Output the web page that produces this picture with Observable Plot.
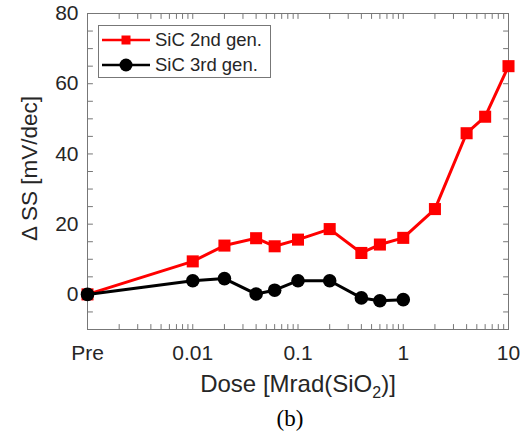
<!DOCTYPE html>
<html>
<head>
<meta charset="utf-8">
<script src="https://cdn.jsdelivr.net/npm/d3@7"></script>
<script src="https://cdn.jsdelivr.net/npm/@observablehq/plot@0.6"></script>
<style>
  html, body { margin: 0; padding: 0; background: #fff; }
  body { font-family: "Liberation Sans", Arial, sans-serif; color: #262626; }
  #wrap { position: relative; width: 530px; height: 442px; }
  #legend { position: absolute; left: 98px; top: 25px; width: 173px; height: 53px;
            box-sizing: border-box; border: 1px solid #777; background: #fff; }
  #legend .row { position: absolute; left: 0; height: 24px; width: 100%; }
  #legend svg { position: absolute; left: 3px; top: 0; }
  #legend span { position: absolute; left: 56px; top: 0; line-height: 24px; font-size: 18.5px; white-space: nowrap; }
  #caption { position: absolute; left: 290px; top: 406px; transform: translateX(-50%);
             font-family: "Liberation Serif", "Times New Roman", serif; font-size: 23px; line-height: 26px; color: #000; }
</style>
</head>
<body>
<div id="wrap">
  <div id="chart"></div>
  <div id="legend"></div>
  <div id="caption">(b)</div>
</div>
<script>
// ---- data ----
const seriesNames = ["SiC 2nd gen.", "SiC 3rd gen."];
const seriesColors = ["#ff0000", "#000000"];
const preDose = 0.001; // "Pre" position on the log axis
const doseGen2 = [preDose, 0.01, 0.02, 0.04, 0.06, 0.1, 0.2, 0.4, 0.6, 1, 2, 4, 6, 10];
const ssGen2   = [0, 9.4, 13.9, 16.0, 13.7, 15.6, 18.6, 11.8, 14.2, 16.1, 24.3, 45.9, 50.6, 65.0];
const doseGen3 = [preDose, 0.01, 0.02, 0.04, 0.06, 0.1, 0.2, 0.4, 0.6, 1];
const ssGen3   = [0, 3.9, 4.5, 0.1, 1.2, 3.9, 3.9, -1.0, -1.8, -1.5];
const xTicks = [preDose, 0.01, 0.1, 1, 10];
const xTickLabels = ["Pre", "0.01", "0.1", "1", "10"];
const yTicks = [0, 20, 40, 60, 80];
const xLabel = "Dose [Mrad(SiO2)]";
const yLabel = "\u0394 SS [mV/dec]";

// ---- derived ----
const gen2 = doseGen2.map((d, i) => ({dose: d, ss: ssGen2[i]}));
const gen3 = doseGen3.map((d, i) => ({dose: d, ss: ssGen3[i]}));
const xMinor = [];
for (let e = -3; e < 1; e++) for (let m = 2; m <= 9; m++) xMinor.push(m * Math.pow(10, e));
const yMinor = d3.range(-10, 81, 5);
const xAll = xTicks.concat(xMinor);

const axisColor = "#262626";
const frameColor = "#777";
const tickShape = { draw(ctx, l) { ctx.moveTo(0, 0); ctx.lineTo(0, -l); } };
const tickLen = 5;
const tickOpts = (anchor, rotate, ch) => ({
  [ch]: d => d, frameAnchor: anchor, rotate, anchor: "start",
  length: tickLen, shape: tickShape, stroke: frameColor, strokeWidth: 1
});

const plot = Plot.plot({
  width: 530,
  height: 400,
  marginLeft: 87,
  marginRight: 22,
  marginTop: 13,
  marginBottom: 71,
  style: { fontFamily: "'Liberation Sans', Arial, sans-serif", color: axisColor, background: "#fff", overflow: "visible" },
  x: { type: "log", domain: [0.001, 10] },
  y: { domain: [-10, 80] },
  marks: [
    Plot.frame({ stroke: frameColor, strokeWidth: 1 }),
    Plot.vector(xAll, tickOpts("bottom", 0, "x")),
    Plot.vector(xAll, tickOpts("top", 180, "x")),
    Plot.vector(yMinor, tickOpts("left", 90, "y")),
    Plot.vector(yMinor, tickOpts("right", -90, "y")),
    Plot.axisX(xTicks, { tickSize: 0, tickPadding: 16, fontSize: 21, fill: axisColor, label: null,
      tickFormat: d => xTickLabels[xTicks.indexOf(d)] }),
    Plot.axisY(yTicks, { tickSize: 0, tickPadding: 9, fontSize: 21, fill: axisColor, label: null }),
    Plot.text([xLabel], { frameAnchor: "bottom", lineAnchor: "middle", textAnchor: "middle", dy: 55, fontSize: 24, fill: axisColor }),
    Plot.text([yLabel], { frameAnchor: "left", lineAnchor: "middle", textAnchor: "middle", rotate: -90, dx: -58, dy: -3, fontSize: 22.5, fill: axisColor }),
    Plot.line(gen2, { x: "dose", y: "ss", stroke: seriesColors[0], strokeWidth: 3 }),
    Plot.dot(gen2, { x: "dose", y: "ss", symbol: "square", r: 6.8, fill: seriesColors[0], stroke: "none" }),
    Plot.line(gen3, { x: "dose", y: "ss", stroke: seriesColors[1], strokeWidth: 3 }),
    Plot.dot(gen3, { x: "dose", y: "ss", symbol: "circle", r: 6.8, fill: seriesColors[1], stroke: "none" })
  ]
});
document.getElementById("chart").appendChild(plot);

// subscript for SiO2
plot.querySelectorAll("text").forEach(t => {
  if (t.textContent === xLabel) {
    t.textContent = "";
    const NS = "http://www.w3.org/2000/svg";
    const a = document.createElementNS(NS, "tspan"); a.textContent = "Dose [Mrad(SiO";
    const b = document.createElementNS(NS, "tspan"); b.textContent = "2"; b.setAttribute("dy", "6"); b.setAttribute("font-size", "16");
    const c = document.createElementNS(NS, "tspan"); c.textContent = ")]"; c.setAttribute("dy", "-6");
    t.appendChild(a); t.appendChild(b); t.appendChild(c);
  }
});

// legend
const legend = document.getElementById("legend");
seriesNames.forEach((name, i) => {
  const row = document.createElement("div");
  row.className = "row";
  row.style.top = (i === 0 ? 2 : 26.5) + "px";
  const symbol = i === 0
    ? `<rect x="19.5" y="7.5" width="9" height="9" fill="${seriesColors[i]}"/>`
    : `<circle cx="24" cy="12" r="6.5" fill="${seriesColors[i]}"/>`;
  row.innerHTML = `<svg width="50" height="24"><line x1="0" x2="48" y1="12" y2="12" stroke="${seriesColors[i]}" stroke-width="2.5"/>${symbol}</svg><span>${name}</span>`;
  legend.appendChild(row);
});
</script>
</body>
</html>
